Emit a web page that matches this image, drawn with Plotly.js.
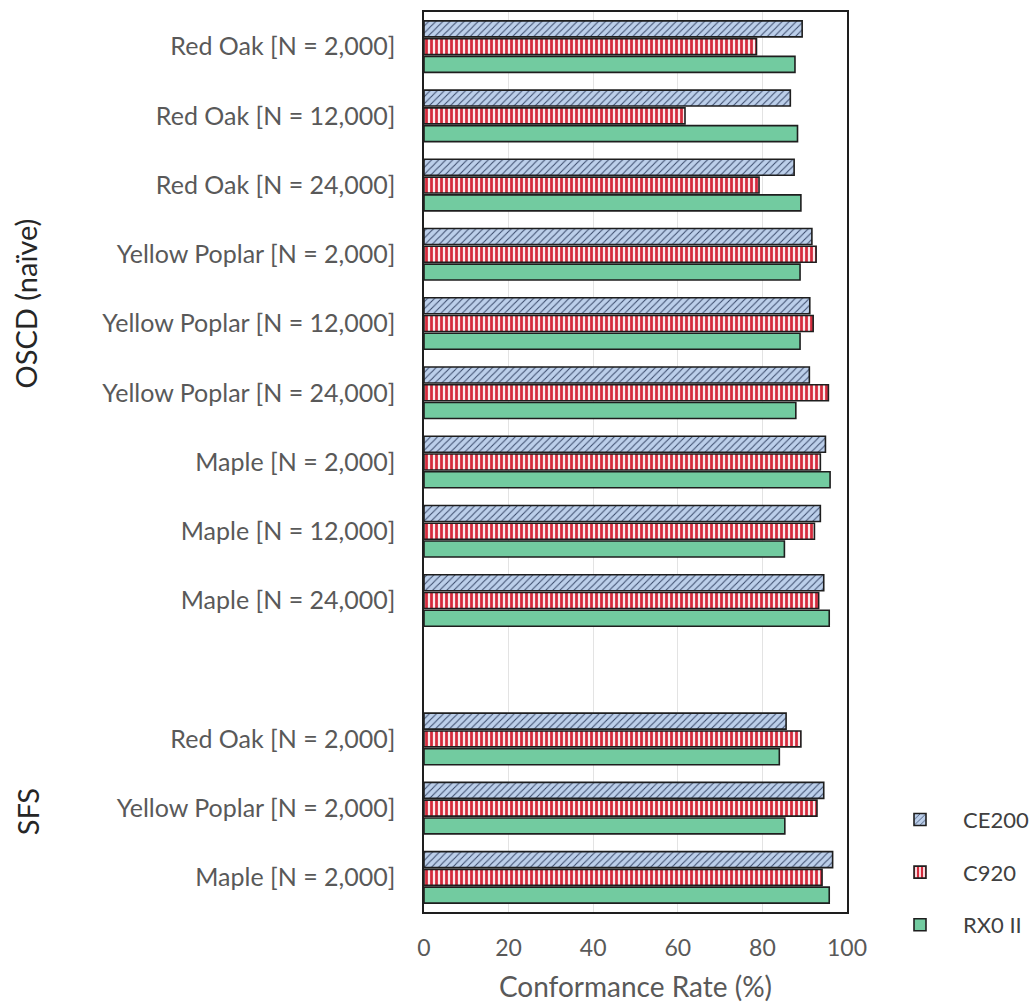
<!DOCTYPE html>
<html>
<head>
<meta charset="utf-8">
<script src="https://cdn.plot.ly/plotly-3.0.1.min.js"></script>
<style>html,body{margin:0;padding:0;background:#fff;}#chart{width:1034px;height:1006px;}</style>
</head>
<body>
<div id="chart"></div>
<script>
// Category labels (top to bottom); an empty slot separates the two groups
const categoryLabels = [
  "Red Oak [N = 2,000]",
  "Red Oak [N = 12,000]",
  "Red Oak [N = 24,000]",
  "Yellow Poplar [N = 2,000]",
  "Yellow Poplar [N = 12,000]",
  "Yellow Poplar [N = 24,000]",
  "Maple [N = 2,000]",
  "Maple [N = 12,000]",
  "Maple [N = 24,000]",
  "",
  "Red Oak [N = 2,000]",
  "Yellow Poplar [N = 2,000]",
  "Maple [N = 2,000]"
];
const categoryPositions = [0,1,2,3,4,5,6,7,8,9,10,11,12];

const seriesNames = ["CE200", "C920", "RX0 II"];
const ce200 = [89.4, 86.6, 87.5, 91.7, 91.2, 91.1, 94.9, 93.7, 94.5, null, 85.6, 94.5, 96.6];
const c920  = [78.6, 61.7, 79.2, 92.7, 92.0, 95.6, 93.7, 92.3, 93.3, null, 89.1, 92.9, 94.1];
const rx0ii = [87.7, 88.3, 89.1, 88.9, 88.9, 87.9, 96.0, 85.2, 95.8, null, 84.0, 85.3, 95.8];

const xTickValues = [0, 20, 40, 60, 80, 100];
const groupTitles = ["OSCD (naïve)", "SFS"];
const groupTitlePositions = [3.71, 11.06];

const FONT = "Lato, 'Noto Sans', sans-serif";
const outline = {color: "#1e1e1e", width: 1.6};

const traces = [
  {
    type: "bar", orientation: "h", name: seriesNames[0], legendgroup: "a",
    y: categoryPositions, x: ce200,
    marker: {color: "#b4c7e7", line: outline,
      pattern: {shape: "/", bgcolor: "#bccfea", fgcolor: "#3a4a6a", size: 5, solidity: 0.2}}
  },
  {
    type: "bar", orientation: "h", name: seriesNames[1], legendgroup: "b",
    y: categoryPositions, x: c920,
    marker: {color: "#d42a3c", line: outline,
      pattern: {shape: "|", bgcolor: "#fbeaec", fgcolor: "#d42a3c", size: 5, solidity: 0.55}}
  },
  {
    type: "bar", orientation: "h", name: seriesNames[2], legendgroup: "c",
    y: categoryPositions, x: rx0ii,
    marker: {color: "#72cba0", line: outline}
  }
];

const layout = {
  width: 1034, height: 1006,
  margin: {l: 424, r: 187, t: 12, b: 94},
  paper_bgcolor: "#ffffff", plot_bgcolor: "#ffffff",
  font: {family: FONT, size: 22, color: "#595959"},
  barmode: "group", bargap: 0.23, bargroupgap: 0.1,
  showlegend: true,
  legend: {
    xref: "container", yref: "container",
    x: 1.0, xanchor: "right", y: 0.206, yanchor: "top",
    traceorder: "grouped", tracegroupgap: 21,
    font: {family: FONT, size: 22, color: "#404040"},
    bgcolor: "rgba(0,0,0,0)", itemwidth: 76
  },
  xaxis: {
    range: [0, 100], tickvals: xTickValues, ticktext: xTickValues.map(String),
    showgrid: true, gridcolor: "#e3e3e3", gridwidth: 1, zeroline: false,
    showline: true, linecolor: "#1e1e1e", linewidth: 1.6, mirror: true,
    ticks: "", ticklabelstandoff: 15,
    tickfont: {family: FONT, size: 23, color: "#595959"},
    title: {text: "Conformance Rate (%)", font: {family: FONT, size: 28, color: "#595959"}, standoff: 17}
  },
  yaxis: {
    range: [12.5, -0.5], tickvals: categoryPositions, ticktext: categoryLabels,
    showgrid: false, zeroline: false,
    showline: true, linecolor: "#1e1e1e", linewidth: 1.6, mirror: true,
    ticks: "", ticklabelstandoff: 22,
    tickfont: {family: FONT, size: 25, color: "#595959"}
  },
  annotations: [
    {text: groupTitles[0], xref: "paper", yref: "y", x: 0, y: groupTitlePositions[0], xshift: -399,
     xanchor: "center", yanchor: "middle",
     textangle: -90, showarrow: false, font: {family: FONT, size: 29, color: "#262626"}},
    {text: groupTitles[1], xref: "paper", yref: "y", x: 0, y: groupTitlePositions[1], xshift: -397,
     xanchor: "center", yanchor: "middle",
     textangle: -90, showarrow: false, font: {family: FONT, size: 29, color: "#262626"}}
  ]
};

Plotly.newPlot("chart", traces, layout, {displayModeBar: false, staticPlot: true});
</script>
</body>
</html>
